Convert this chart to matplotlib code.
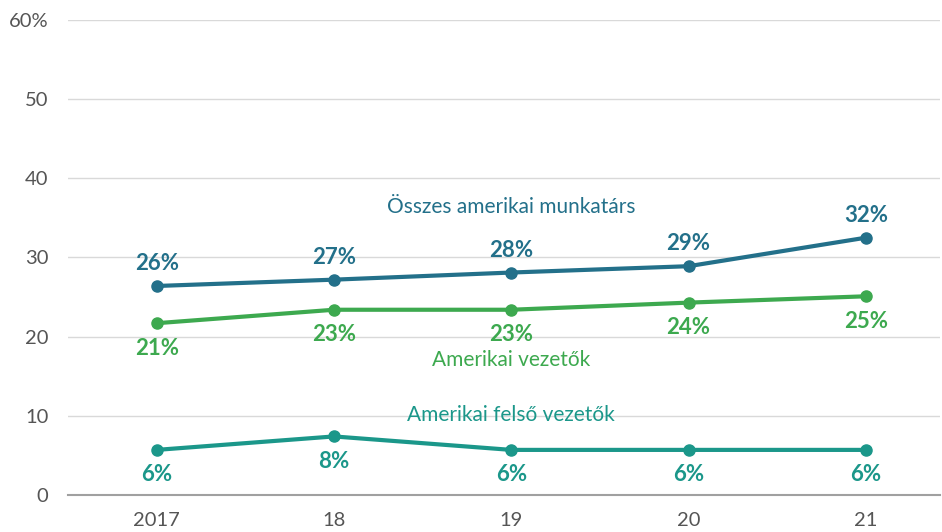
import matplotlib
matplotlib.use("Agg")
import matplotlib.pyplot as plt

plt.rcParams['font.family'] = ['Lato', 'DejaVu Sans']

years = ["2017", "18", "19", "20", "21"]
all_staff = [26.4, 27.2, 28.1, 28.9, 32.5]
all_labels = ["26%", "27%", "28%", "29%", "32%"]
managers = [21.7, 23.4, 23.4, 24.3, 25.1]
mgr_labels = ["21%", "23%", "23%", "24%", "25%"]
senior = [5.7, 7.4, 5.7, 5.7, 5.7]
senior_labels = ["6%", "8%", "6%", "6%", "6%"]
yticks = [0, 10, 20, 30, 40, 50, 60]
ytick_labels = ["0", "10", "20", "30", "40", "50", "60%"]

c_blue = "#23708a"
c_green = "#3da94f"
c_teal = "#1b978a"

fig = plt.figure(figsize=(9.42, 5.32), dpi=100)
ax = fig.add_axes([0.0722, 0.0695, 0.926, 0.893])
x = list(range(len(years)))

for vals, labs, col, off in [(all_staff, all_labels, c_blue, 16),
                             (managers, mgr_labels, c_green, -18),
                             (senior, senior_labels, c_teal, -18)]:
    ax.plot(x, vals, color=col, lw=3, marker='o', ms=8, zorder=3)
    for i, (v, l) in enumerate(zip(vals, labs)):
        ax.annotate(l, xy=(i, v), xytext=(0, off), textcoords='offset points',
                    ha='center', va='center', color=col, fontsize=16,
                    fontweight='bold')

ax.text(2, 36.4, "Összes amerikai munkatárs", color=c_blue, fontsize=15,
        ha='center', va='center')
ax.text(2, 17.0, "Amerikai vezetők", color=c_green, fontsize=15,
        ha='center', va='center')
ax.text(2, 10.1, "Amerikai felső vezetők", color=c_teal, fontsize=15,
        ha='center', va='center')

ax.set_xlim(-0.5, 4.42)
ax.set_ylim(0, 60)
ax.set_yticks(yticks)
ax.set_yticklabels(ytick_labels)
ax.set_xticks(x)
ax.set_xticklabels(years)
ax.grid(axis='y', color='#d9d9d9', lw=1)
ax.set_axisbelow(True)
for s in ['top', 'right', 'left']:
    ax.spines[s].set_visible(False)
ax.spines['bottom'].set_color('#a0a0a0')
ax.spines['bottom'].set_linewidth(1.5)
ax.tick_params(axis='both', length=0, labelsize=14.5, colors='#555555')
ax.tick_params(axis='y', pad=14)
ax.tick_params(axis='x', pad=12)

fig.savefig("out.png", dpi=100)
